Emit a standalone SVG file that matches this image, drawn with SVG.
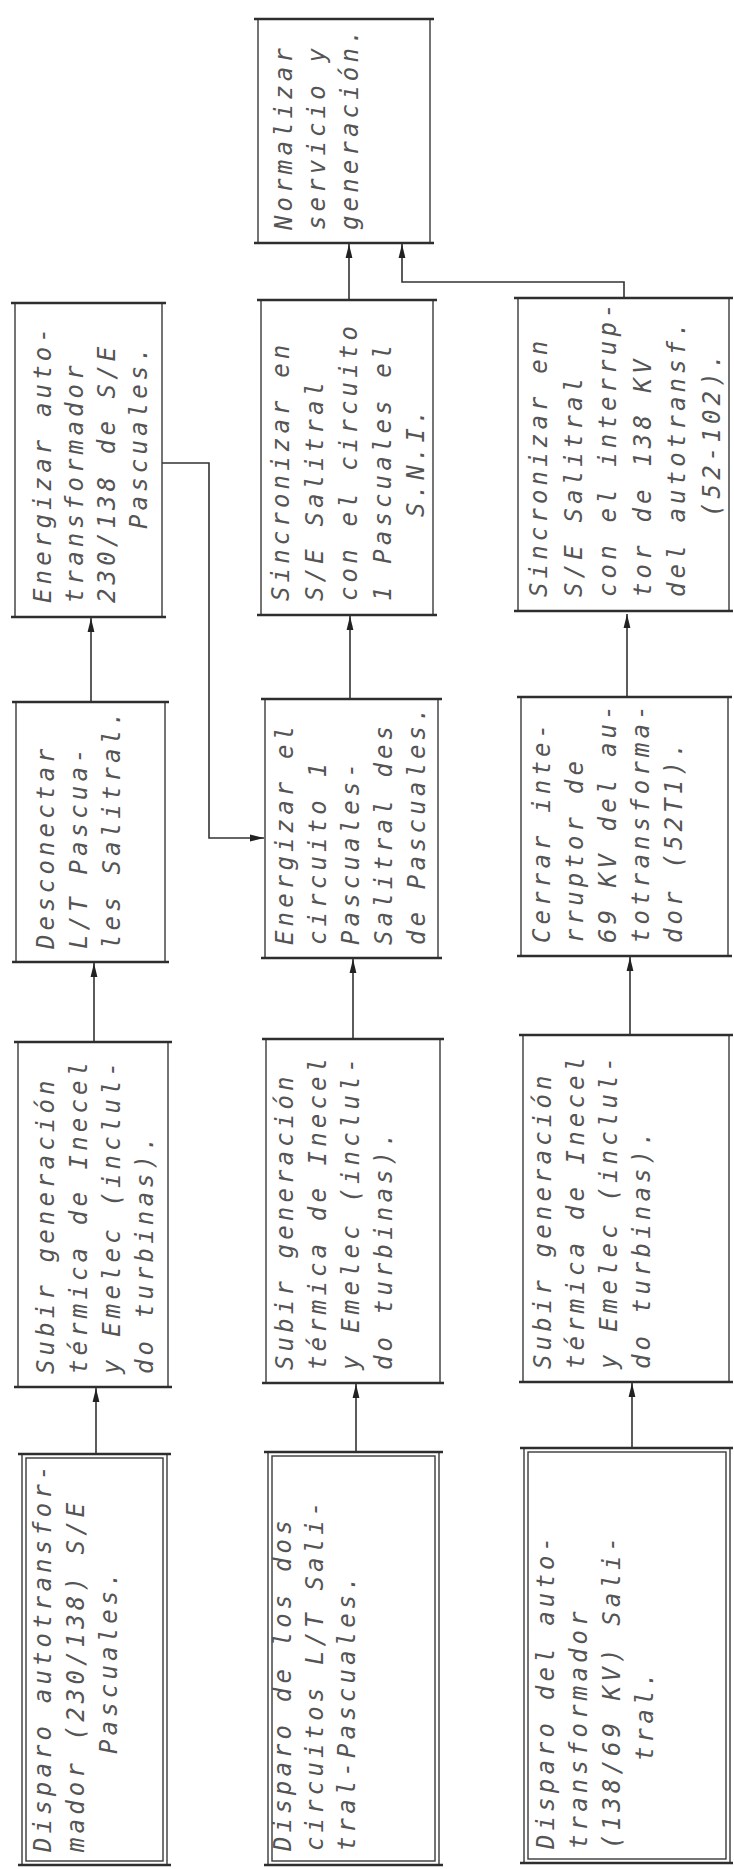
<svg xmlns="http://www.w3.org/2000/svg" width="734" height="1869" viewBox="0 0 734 1869">
<style>
.t{font-family:"DejaVu Sans Mono","Liberation Mono",monospace;font-size:24px;font-style:oblique;letter-spacing:4.15px;fill:#555}
.box{fill:#fff;stroke:#3a3a3a;stroke-width:1.4}
.in{fill:none;stroke:#3a3a3a;stroke-width:1.4}
.edge{stroke:#2e2e2e;stroke-width:2.4}
.conn{fill:none;stroke:#333;stroke-width:1.6}
</style>
<defs>
<marker id="ah" markerUnits="userSpaceOnUse" markerWidth="16" markerHeight="10" refX="14" refY="4" orient="auto">
<path d="M0,0.6 L14,4 L0,7.4 z" fill="#222"/>
</marker>
</defs>
<rect x="0" y="0" width="734" height="1869" fill="#fff"/>

<g id="connectors">
<line class="conn" x1="96" y1="1454" x2="96" y2="1388" marker-end="url(#ah)"/>
<line class="conn" x1="94" y1="1042" x2="94" y2="963" marker-end="url(#ah)"/>
<line class="conn" x1="91" y1="702" x2="91" y2="618" marker-end="url(#ah)"/>
<line class="conn" x1="356" y1="1452" x2="356" y2="1384" marker-end="url(#ah)"/>
<line class="conn" x1="353" y1="1039" x2="353" y2="959" marker-end="url(#ah)"/>
<line class="conn" x1="350" y1="699" x2="350" y2="616" marker-end="url(#ah)"/>
<line class="conn" x1="349" y1="300" x2="349" y2="244" marker-end="url(#ah)"/>
<line class="conn" x1="632" y1="1448" x2="632" y2="1383" marker-end="url(#ah)"/>
<line class="conn" x1="630" y1="1035" x2="630" y2="957" marker-end="url(#ah)"/>
<line class="conn" x1="627" y1="697" x2="627" y2="614" marker-end="url(#ah)"/>
<polyline class="conn" points="624,298 624,282 402,282 402,244" marker-end="url(#ah)"/>
<polyline class="conn" points="161,463 209,463 209,838 264,838" marker-end="url(#ah)"/>
</g>

<g id="n1">
<rect class="box" x="22" y="1454" width="145" height="411"/>
<rect class="in" x="26" y="1458" width="137" height="403"/>
<line class="edge" x1="18" y1="1454" x2="171" y2="1454"/>
<line class="edge" x1="18" y1="1865" x2="171" y2="1865"/>
<text class="t" transform="translate(51,1852) rotate(-90)"><tspan x="0" y="0">Disparo autotransfor-</tspan><tspan x="0" y="33">mador (230/138) S/E</tspan><tspan x="98" y="66">Pascuales.</tspan></text>
</g>

<g id="n2">
<rect class="box" x="18" y="1042" width="150" height="345"/>
<line class="edge" x1="14" y1="1042" x2="172" y2="1042"/>
<line class="edge" x1="14" y1="1387" x2="172" y2="1387"/>
<text class="t" transform="translate(54,1374) rotate(-90)"><tspan x="0" y="0">Subir generación</tspan><tspan x="0" y="33">térmica de Inecel</tspan><tspan x="0" y="66">y Emelec (inclul-</tspan><tspan x="0" y="99">do turbinas).</tspan></text>
</g>

<g id="n3">
<rect class="box" x="16" y="702" width="149" height="260"/>
<line class="edge" x1="12" y1="702" x2="169" y2="702"/>
<line class="edge" x1="12" y1="962" x2="169" y2="962"/>
<text class="t" transform="translate(54,949) rotate(-90)"><tspan x="0" y="0">Desconectar</tspan><tspan x="0" y="33">L/T Pascua-</tspan><tspan x="0" y="66">les Salitral.</tspan></text>
</g>

<g id="n4">
<rect class="box" x="15" y="303" width="147" height="314"/>
<line class="edge" x1="11" y1="303" x2="166" y2="303"/>
<line class="edge" x1="11" y1="617" x2="166" y2="617"/>
<text class="t" transform="translate(51,603) rotate(-90)"><tspan x="0" y="0">Energizar auto-</tspan><tspan x="0" y="32">transformador</tspan><tspan x="0" y="64">230/138 de S/E</tspan><tspan x="74" y="96">Pascuales.</tspan></text>
</g>

<g id="n5">
<rect class="box" x="268" y="1452" width="171" height="413"/>
<rect class="in" x="272" y="1456" width="163" height="405"/>
<line class="edge" x1="264" y1="1452" x2="443" y2="1452"/>
<line class="edge" x1="264" y1="1865" x2="443" y2="1865"/>
<text class="t" transform="translate(291,1851) rotate(-90)"><tspan x="0" y="0">Disparo de los dos</tspan><tspan x="0" y="32">circuitos L/T Sali-</tspan><tspan x="0" y="64">tral-Pascuales.</tspan></text>
</g>

<g id="n6">
<rect class="box" x="266" y="1039" width="174" height="344"/>
<line class="edge" x1="262" y1="1039" x2="444" y2="1039"/>
<line class="edge" x1="262" y1="1383" x2="444" y2="1383"/>
<text class="t" transform="translate(293,1370) rotate(-90)"><tspan x="0" y="0">Subir generación</tspan><tspan x="0" y="33">térmica de Inecel</tspan><tspan x="0" y="66">y Emelec (inclul-</tspan><tspan x="0" y="99">do turbinas).</tspan></text>
</g>

<g id="n7">
<rect class="box" x="265" y="699" width="173" height="259"/>
<line class="edge" x1="261" y1="699" x2="442" y2="699"/>
<line class="edge" x1="261" y1="958" x2="442" y2="958"/>
<text class="t" transform="translate(293,945) rotate(-90)"><tspan x="0" y="0">Energizar el</tspan><tspan x="0" y="33">circuito 1</tspan><tspan x="0" y="66">Pascuales-</tspan><tspan x="0" y="99">Salitral des</tspan><tspan x="0" y="132">de Pascuales.</tspan></text>
</g>

<g id="n8">
<rect class="box" x="261" y="300" width="172" height="315"/>
<line class="edge" x1="257" y1="300" x2="437" y2="300"/>
<line class="edge" x1="257" y1="615" x2="437" y2="615"/>
<text class="t" transform="translate(289,601) rotate(-90)"><tspan x="0" y="0">Sincronizar en</tspan><tspan x="0" y="34">S/E Salitral</tspan><tspan x="0" y="68">con el circuito</tspan><tspan x="0" y="102">1 Pascuales el</tspan><tspan x="84" y="135">S.N.I.</tspan></text>
</g>

<g id="n9">
<rect class="box" x="258" y="19" width="172" height="224"/>
<line class="edge" x1="254" y1="19" x2="434" y2="19"/>
<line class="edge" x1="254" y1="243" x2="434" y2="243"/>
<text class="t" transform="translate(292,230) rotate(-90)"><tspan x="0" y="0">Normalizar</tspan><tspan x="0" y="33">servicio y</tspan><tspan x="0" y="66">generación.</tspan></text>
</g>

<g id="n10">
<rect class="box" x="524" y="1448" width="206" height="415"/>
<rect class="in" x="528" y="1452" width="198" height="407"/>
<line class="edge" x1="520" y1="1448" x2="733" y2="1448"/>
<line class="edge" x1="520" y1="1863" x2="733" y2="1863"/>
<text class="t" transform="translate(554,1849) rotate(-90)"><tspan x="0" y="0">Disparo del auto-</tspan><tspan x="0" y="33">transformador</tspan><tspan x="0" y="66">(138/69 KV) Sali-</tspan><tspan x="88" y="99">tral.</tspan></text>
</g>

<g id="n11">
<rect class="box" x="523" y="1035" width="206" height="347"/>
<line class="edge" x1="519" y1="1035" x2="733" y2="1035"/>
<line class="edge" x1="519" y1="1382" x2="733" y2="1382"/>
<text class="t" transform="translate(551,1369) rotate(-90)"><tspan x="0" y="0">Subir generación</tspan><tspan x="0" y="33">térmica de Inecel</tspan><tspan x="0" y="66">y Emelec (inclul-</tspan><tspan x="0" y="99">do turbinas).</tspan></text>
</g>

<g id="n12">
<rect class="box" x="521" y="697" width="207" height="259"/>
<line class="edge" x1="517" y1="697" x2="732" y2="697"/>
<line class="edge" x1="517" y1="956" x2="732" y2="956"/>
<text class="t" transform="translate(550,943) rotate(-90)"><tspan x="0" y="0">Cerrar inte-</tspan><tspan x="0" y="33">rruptor de</tspan><tspan x="0" y="66">69 KV del au-</tspan><tspan x="0" y="99">totransforma-</tspan><tspan x="0" y="132">dor (52T1).</tspan></text>
</g>

<g id="n13">
<rect class="box" x="518" y="298" width="211" height="313"/>
<line class="edge" x1="514" y1="298" x2="733" y2="298"/>
<line class="edge" x1="514" y1="611" x2="733" y2="611"/>
<text class="t" transform="translate(547,597) rotate(-90)"><tspan x="0" y="0">Sincronizar en</tspan><tspan x="0" y="34.5">S/E Salitral</tspan><tspan x="0" y="69">con el interrup-</tspan><tspan x="0" y="103.5">tor de 138 KV</tspan><tspan x="0" y="138">del autotransf.</tspan><tspan x="80" y="172.5">(52-102).</tspan></text>
</g>
</svg>
